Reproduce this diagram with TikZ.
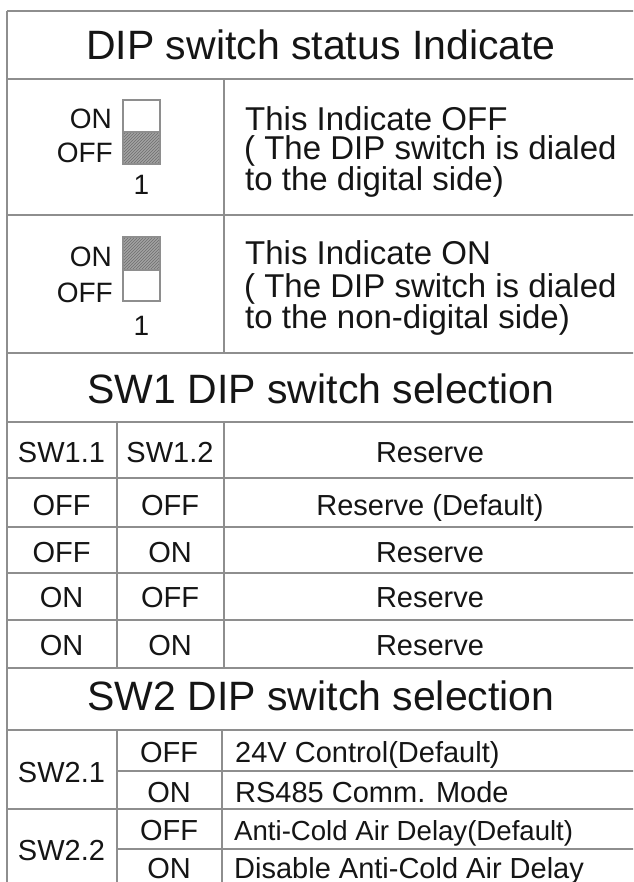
\documentclass[tikz,border=0pt]{standalone}
\usepackage{fontspec}
\setmainfont{Liberation Sans}
\usetikzlibrary{patterns}
\definecolor{gridline}{HTML}{8E8E8E}
\definecolor{swfill}{HTML}{A3A3A3}
\definecolor{swhatch}{HTML}{6E6E6E}
\definecolor{txt}{HTML}{151515}
\begin{document}
\begin{tikzpicture}[x=1pt,y=-1pt,
  grid/.style={draw=gridline, line width=2.4pt},
  bigtitle/.style={anchor=base, font=\fontsize{41}{49}\selectfont, text=txt, inner sep=0pt},
  cell/.style={anchor=base, font=\fontsize{29}{34}\selectfont, text=txt, inner sep=0pt},
  lcell/.style={cell, anchor=base west},
  desc/.style={anchor=base west, font=\fontsize{33}{38}\selectfont, text=txt, inner sep=0pt},
  swlabel/.style={anchor=base east, font=\fontsize{28}{32}\selectfont, text=txt, inner sep=0pt},
  swnum/.style={anchor=base, font=\fontsize{28}{32}\selectfont, text=txt, inner sep=0pt},
  swbox/.style={draw=gridline, line width=1.3pt},
  swshade/.style={fill=swfill},
  swlines/.style={pattern=north east lines, pattern color=swhatch}
]
\useasboundingbox (0,0) rectangle (633,882);
\clip (0,0) rectangle (633,882);
\fill[white] (0,0) rectangle (633,882);

% ---- grid lines ----
\foreach \yy in {11,79,215,353,422,478,527,573,620,668,730,809}
  \draw[grid] (7,\yy) -- (645,\yy);
\foreach \yy in {771,849}
  \draw[grid] (117,\yy) -- (645,\yy);
\draw[grid] (7,11) -- (7,900);
\draw[grid] (224,79) -- (224,353);
\draw[grid] (117,422) -- (117,668);
\draw[grid] (224,422) -- (224,668);
\draw[grid] (117,730) -- (117,900);
\draw[grid] (222,730) -- (222,900);

% ---- titles ----
\node[bigtitle] (t1) at (321,60) {DIP switch status Indicate};
\node[bigtitle] (t2) at (321,403) {SW1 DIP switch selection};
\node[bigtitle] (t3) at (321,710) {SW2 DIP switch selection};

% ---- switch indicator 1 (OFF) ----
\fill[swshade] (123,132) rectangle (160,164);
\fill[swlines] (123,132) rectangle (160,164);
\draw[swbox] (123,100) rectangle (160,164);
\draw[swbox] (123,132) -- (160,132);
\node[swlabel] (on1) at (112,129) {ON};
\node[swlabel] (off1) at (113,163) {OFF};
\node[swnum] (n1) at (141.5,195) {1};
\node[desc] (d1a) at (245,131) {This Indicate OFF};
\node[desc] (d1b) at (244,160) {( The DIP switch is dialed};
\node[desc] (d1c) at (245,191) {to the digital side)};

% ---- switch indicator 2 (ON) ----
\fill[swshade] (123,237) rectangle (160,270);
\fill[swlines] (123,237) rectangle (160,270);
\draw[swbox] (123,237) rectangle (160,301);
\draw[swbox] (123,270) -- (160,270);
\node[swlabel] (on2) at (112,267) {ON};
\node[swlabel] (off2) at (113,302) {OFF};
\node[swnum] (n2) at (141.5,335) {1};
\node[desc] (d2a) at (245,265) {This Indicate ON};
\node[desc] (d2b) at (244,297) {( The DIP switch is dialed};
\node[desc] (d2c) at (245,328) {to the non-digital side)};

% ---- SW1 table ----
\node[cell] (h1) at (61.5,462) {SW1.1};
\node[cell] (h2) at (170,462) {SW1.2};
\node[cell] (h3) at (430,462) {Reserve};
\node[cell] (r1a) at (61.5,515) {OFF};
\node[cell] (r1b) at (170,515) {OFF};
\node[cell] (r1c) at (430,515) {Reserve (Default)};
\node[cell] (r2a) at (61.5,562) {OFF};
\node[cell] (r2b) at (170,562) {ON};
\node[cell] (r2c) at (430,562) {Reserve};
\node[cell] (r3a) at (61.5,607) {ON};
\node[cell] (r3b) at (170,607) {OFF};
\node[cell] (r3c) at (430,607) {Reserve};
\node[cell] (r4a) at (61.5,655) {ON};
\node[cell] (r4b) at (170,655) {ON};
\node[cell] (r4c) at (430,655) {Reserve};

% ---- SW2 table ----
\node[cell] (s21) at (61.5,782) {SW2.1};
\node[cell] (s22) at (61.5,860) {SW2.2};
\node[cell] (s21off) at (169,762) {OFF};
\node[cell] (s21on) at (169,802) {ON};
\node[cell] (s22off) at (169,840) {OFF};
\node[cell] (s22on) at (169,878) {ON};
\node[lcell] (s21offt) at (235,762) {24V Control(Default)};
\node[lcell] (s21ont) at (235,802) {RS485 Comm. Mode};
\node[lcell, font=\fontsize{27.6}{32}\selectfont] (s22offt) at (234,840) {Anti-Cold Air Delay(Default)};
\node[lcell] (s22ont) at (234,878) {Disable Anti-Cold Air Delay};
\end{tikzpicture}
\end{document}
